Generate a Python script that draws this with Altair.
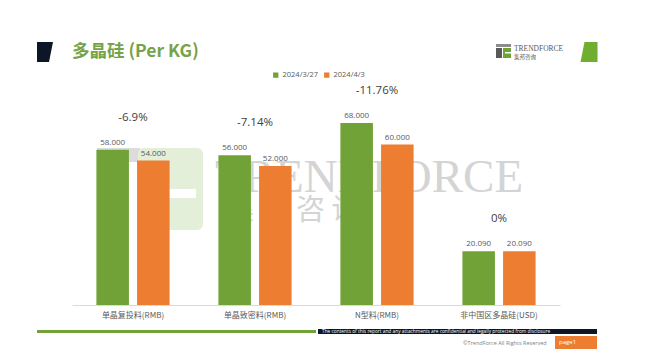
import altair as alt
import pandas as pd

categories = ["单晶复投料(RMB)", "单晶致密料(RMB)", "N型料(RMB)", "非中国区多晶硅(USD)"]
series_names = ["2024/3/27", "2024/4/3"]
values_0327 = [58.0, 56.0, 68.0, 20.09]
values_0403 = [54.0, 52.0, 60.0, 20.09]
pct_labels = ["-6.9%", "-7.14%", "-11.76%", "0%"]

GREEN = "#70a237"
ORANGE = "#ed7d31"
NAVY = "#0d1626"
OX, OY = 72, 91  # plot origin on the page


def px(v):
    return v - OX


def py(v):
    return v - OY


rows = []
for c, a, b in zip(categories, values_0327, values_0403):
    rows.append({"cat": c, "series": series_names[0], "value": a})
    rows.append({"cat": c, "series": series_names[1], "value": b})
df = pd.DataFrame(rows)
pct_df = pd.DataFrame({
    "cat": categories,
    "pct": pct_labels,
    "top": [max(a, b) for a, b in zip(values_0327, values_0403)],
})

one = pd.DataFrame({"k": [0]})

x_enc = alt.X("cat:N", sort=categories, title=None,
              scale=alt.Scale(paddingInner=0.4, paddingOuter=0.2),
              axis=alt.Axis(labelAngle=0, ticks=False, domainColor="#d9d9d9",
                            labelFont="Noto Sans CJK SC", labelFontSize=8,
                            labelColor="#595959", labelPadding=6, grid=False))
y_enc = alt.Y("value:Q", scale=alt.Scale(domain=[0, 80]), axis=None, title=None)
xoff = alt.XOffset("series:N", sort=series_names, scale=alt.Scale(paddingInner=0.2))


def rect(x1, x2, y1, y2, color, **kw):
    return alt.Chart(one).mark_rect(color=color, **kw).encode(
        x=alt.value(px(x1)), x2=alt.value(px(x2)),
        y=alt.value(py(y1)), y2=alt.value(py(y2)))


def text(x, y, s, **kw):
    return alt.Chart(one).mark_text(text=s, **kw).encode(
        x=alt.value(px(x)), y=alt.value(py(y)))


# watermark
wm = [
    rect(97, 140, 148, 162, "#dcdcdc"),
    rect(138, 203, 148, 230, "#e4efd9", cornerRadius=6),
    rect(162, 196, 189, 198, "white"),
    alt.Chart(one).mark_point(shape="M0.2,-1 L0.7,-1 L0.0,1 L-0.5,1 Z", filled=True,
                              size=4900, color="white", opacity=1, strokeWidth=0).encode(
        x=alt.value(px(140)), y=alt.value(py(200))),
    text(215, 192, "TRENDFORCE", font="Liberation Serif", fontSize=47,
         color="#d4d4d4", align="left", baseline="alphabetic"),
    text(225, 211, "集 邦 咨 询", font="Noto Sans CJK SC", fontSize=29,
         color="#d4d4d4", align="left", baseline="middle"),
]

bars = alt.Chart(df).mark_bar().encode(
    x=x_enc, xOffset=xoff, y=y_enc,
    color=alt.Color("series:N", sort=series_names,
                    scale=alt.Scale(domain=series_names, range=[GREEN, ORANGE]),
                    legend=alt.Legend(orient="none", legendX=200, legendY=-20,
                                      direction="horizontal", title=None,
                                      symbolType="square", symbolSize=28,
                                      symbolStrokeWidth=0,
                                      labelFont="Open Sans", labelFontSize=7.5,
                                      labelColor="#595959", labelOffset=3,
                                      columnPadding=4, padding=0)),
)

val_labels = alt.Chart(df).mark_text(font="Open Sans", fontSize=8, color="#595959",
                                     baseline="bottom", dy=-3).encode(
    x=alt.X("cat:N", sort=categories), xOffset=xoff, y=y_enc,
    text=alt.Text("value:Q", format=".3f"))

pct_text = alt.Chart(pct_df).mark_text(font="Open Sans", fontSize=11.5, color="#404040",
                                       baseline="middle", dy=-32).encode(
    x=alt.X("cat:N", sort=categories), y=alt.Y("top:Q"), text="pct:N")

deco = [
    alt.Chart(one).mark_point(shape="M-0.8,-1 L0.8,-1 L0.4,1 L-0.8,1 Z", filled=True,
                              size=400, color=NAVY, opacity=1, strokeWidth=0).encode(
        x=alt.value(px(45)), y=alt.value(py(52))),
    text(72, 52, "多晶硅 (Per KG)", font="Noto Sans CJK SC", fontSize=17.5,
         fontWeight="bold", color="#76a34a", align="left", baseline="middle"),
    alt.Chart(one).mark_point(shape="M-0.45,-1 L0.85,-1 L0.85,1 L-0.85,1 Z", filled=True,
                              size=400, color="#6fae2e", opacity=1, strokeWidth=0).encode(
        x=alt.value(px(589)), y=alt.value(py(52))),
    # logo
    rect(496, 511, 44, 47, "#8c8c8c"),
    rect(496, 502, 48, 58, "#595959"),
    rect(503, 511, 48, 58, "#70a237"),
    rect(505, 511, 52, 53.5, "white"),
    text(514, 48.5, "TRENDFORCE", font="Liberation Serif", fontSize=7.5,
         color="#595959", align="left", baseline="middle"),
    text(514, 56.5, "集邦咨询", font="Noto Sans CJK SC", fontSize=5.5,
         color="#595959", align="left", baseline="middle"),
    # footer
    rect(37, 316, 330, 333, "#70a237"),
    rect(318, 597, 329, 334, NAVY),
    text(322, 331.5, "The contents of this report and any attachments are confidential and legally protected from disclosure",
         font="Open Sans", fontSize=4.8, color="white", align="left", baseline="middle"),
    text(463, 343, "©TrendForce All Rights Reserved", font="Open Sans", fontSize=5.5,
         color="#7f7f7f", align="left", baseline="middle"),
    rect(555, 597, 336, 349, ORANGE),
    text(559, 342, "page1", font="Open Sans", fontSize=6, color="white",
         align="left", baseline="middle"),
]

chart = alt.layer(*wm, bars, val_labels, pct_text, *deco).properties(
    width=488, height=214,
    background="white",
    autosize=alt.AutoSizeParams(type="none"),
    padding={"left": 64, "top": 83, "right": 82, "bottom": 50},
).configure_view(strokeWidth=0, stroke=None)

chart.save("out.html", embed_options={"renderer": "svg", "actions": False})
